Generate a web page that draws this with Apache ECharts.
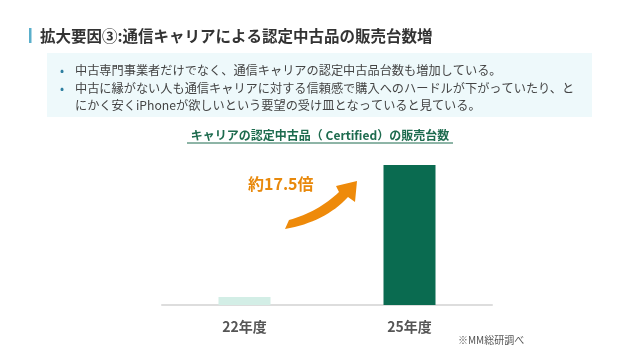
<!DOCTYPE html>
<html>
<head>
<meta charset="utf-8">
<style>
html,body{margin:0;padding:0;background:#fff;}
#chart{width:640px;height:359px;}
</style>
<script src="https://cdn.jsdelivr.net/npm/echarts@6/dist/echarts.min.js"></script>
</head>
<body>
<div id="chart"></div>
<script>
const categories = ['22年度', '25年度'];
const salesIndex = [1, 17.5];
const pageTitle = '拡大要因③:通信キャリアによる認定中古品の販売台数増';
const bulletLines = [
  '中古専門事業者だけでなく、通信キャリアの認定中古品台数も増加している。',
  '中古に縁がない人も通信キャリアに対する信頼感で購入へのハードルが下がっていたり、と',
  'にかく安くiPhoneが欲しいという要望の受け皿となっていると見ている。'
];
const chartTitle = 'キャリアの認定中古品（ Certified）の販売台数';
const growthLabel = '約17.5倍';
const sourceNote = '※MM総研調べ';

const barColors = ['#D3EEE6', '#0A6B50'];
const FONT = '"Noto Sans CJK JP", "Noto Sans", sans-serif';

// decorative curved arrow outline (quadratic curves sampled into a polygon)
function quad(p0, c, p1, n) {
  const pts = [];
  for (let i = 0; i <= n; i++) {
    const t = i / n, u = 1 - t;
    pts.push([u * u * p0[0] + 2 * u * t * c[0] + t * t * p1[0],
              u * u * p0[1] + 2 * u * t * c[1] + t * t * p1[1]]);
  }
  return pts;
}
const arrowPts = [].concat(
  [[285, 229]],
  quad([289, 220], [318, 212], [339, 192], 16),
  [[336, 186], [357, 181], [355, 202]],
  quad([348, 197], [325, 222], [285, 229], 16)
);

const chart = echarts.init(document.getElementById('chart'), null, {renderer: 'canvas'});

const graphics = [
  {type: 'rect', shape: {x: 29, y: 28, width: 2.5, height: 15}, style: {fill: '#5AAFCB'}},
  {type: 'text', x: 40, y: 36, style: {text: pageTitle, font: 'bold 15.5px ' + FONT, fill: '#333333', verticalAlign: 'middle'}},
  {type: 'rect', shape: {x: 47, y: 53, width: 545, height: 64}, style: {fill: '#EEF9FB'}},
  {type: 'text', x: 60, y: 70, style: {text: '•', font: '12px ' + FONT, fill: '#2E7FA0', verticalAlign: 'middle'}},
  {type: 'text', x: 60, y: 88, style: {text: '•', font: '12px ' + FONT, fill: '#2E7FA0', verticalAlign: 'middle'}},
  {type: 'text', x: 75, y: 70, style: {text: bulletLines[0], font: '12.2px ' + FONT, fill: '#444444', verticalAlign: 'middle'}},
  {type: 'text', x: 75, y: 88, style: {text: bulletLines[1], font: '12.2px ' + FONT, fill: '#444444', verticalAlign: 'middle'}},
  {type: 'text', x: 75, y: 105, style: {text: bulletLines[2], font: '12.2px ' + FONT, fill: '#444444', verticalAlign: 'middle'}},
  {type: 'text', x: 320, y: 135, style: {text: chartTitle, font: 'bold 12px ' + FONT, fill: '#1D6B4E', align: 'center', verticalAlign: 'middle'}},
  {type: 'line', shape: {x1: 187, y1: 143, x2: 453, y2: 143}, style: {stroke: '#1D6B4E', lineWidth: 1}},
  {type: 'text', x: 248, y: 184, style: {text: growthLabel, font: 'bold 16px ' + FONT, fill: '#E8890C', verticalAlign: 'middle'}},
  {type: 'polygon', shape: {points: arrowPts}, style: {fill: '#EE8A0A'}},
  {type: 'text', x: 458, y: 340, style: {text: sourceNote, font: '10px ' + FONT, fill: '#555555', verticalAlign: 'middle'}}
];

chart.setOption({
  animation: false,
  backgroundColor: '#ffffff',
  grid: {left: 162, right: 148, top: 165, bottom: 54},
  xAxis: {
    type: 'category',
    data: categories,
    axisLine: {lineStyle: {color: '#DDDDDD', width: 2}},
    axisTick: {show: false},
    axisLabel: {fontFamily: FONT, fontWeight: 'bold', fontSize: 14, color: '#555555', margin: 15}
  },
  yAxis: {
    type: 'value', min: 0, max: 17.5,
    show: false, splitLine: {show: false}
  },
  series: [{
    type: 'bar',
    barWidth: 52,
    data: salesIndex.map((v, i) => ({value: v, itemStyle: {color: barColors[i]}}))
  }],
  graphic: graphics
});
</script>
</body>
</html>
